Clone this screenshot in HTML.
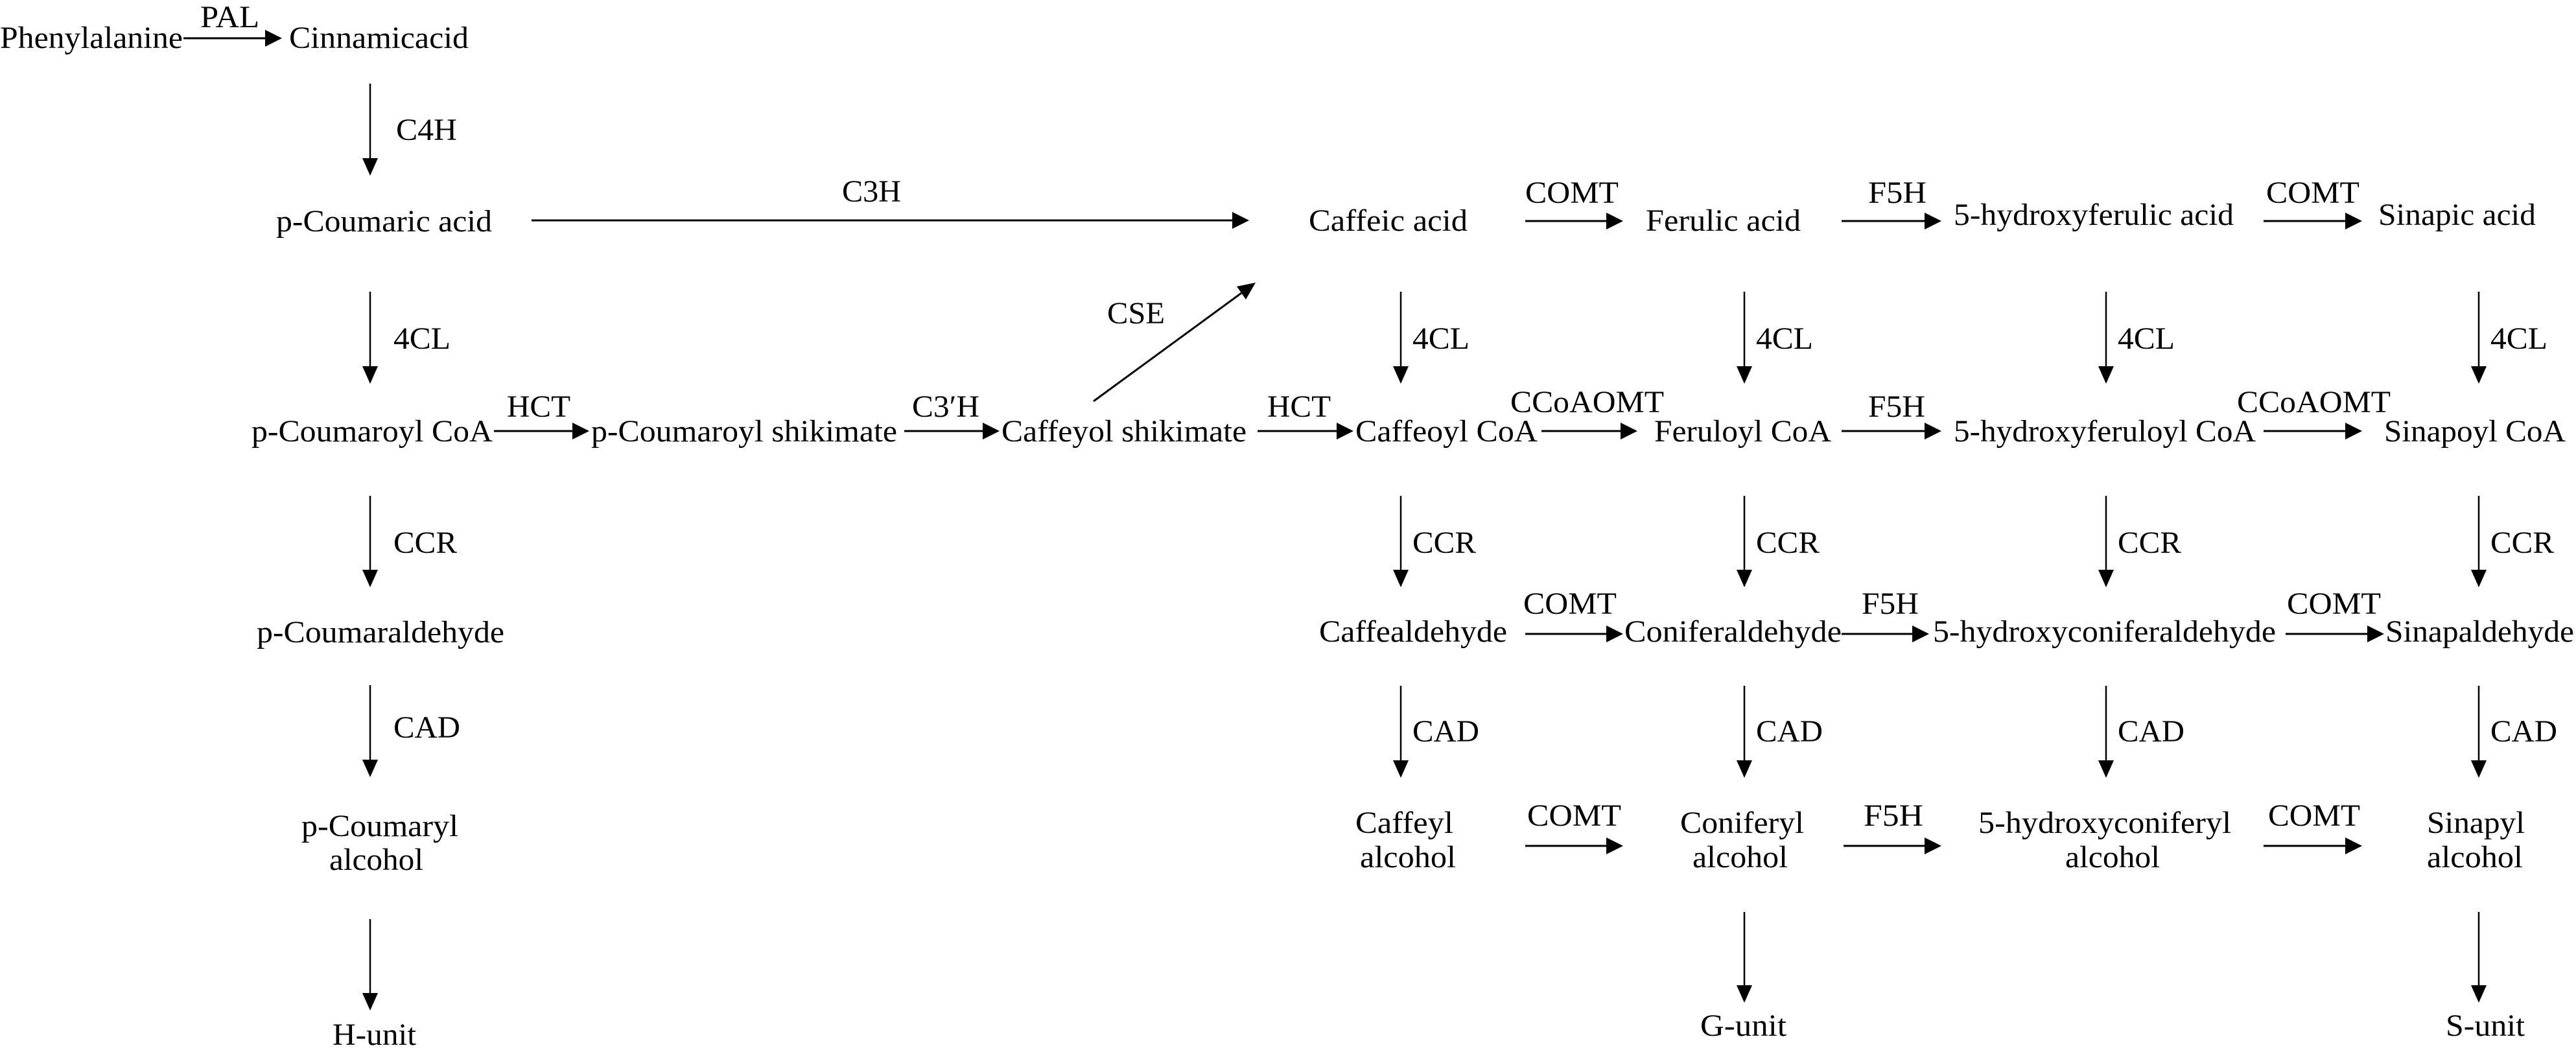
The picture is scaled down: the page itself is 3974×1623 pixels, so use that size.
<!DOCTYPE html>
<html><head><meta charset="utf-8"><style>
html,body{margin:0;padding:0;background:#fff;}
svg{display:block;}
text{font-family:"Liberation Serif",serif;font-size:48px;fill:#000;}
</style></head><body>
<svg width="3974" height="1623" viewBox="0 0 3974 1623" xmlns="http://www.w3.org/2000/svg">
<g stroke="#000" stroke-width="3" fill="none">
<line x1="283" y1="59" x2="410" y2="59"/>
<line x1="820" y1="340" x2="1902" y2="340"/>
<line x1="2353" y1="341" x2="2478" y2="341"/>
<line x1="2841" y1="341" x2="2970" y2="341"/>
<line x1="3492" y1="341" x2="3620" y2="341"/>
<line x1="762" y1="665" x2="884" y2="665"/>
<line x1="1395" y1="665" x2="1518" y2="665"/>
<line x1="1940" y1="665" x2="2064" y2="665"/>
<line x1="2378" y1="665" x2="2502" y2="665"/>
<line x1="2841" y1="665" x2="2970" y2="665"/>
<line x1="3492" y1="665" x2="3620" y2="665"/>
<line x1="2353" y1="978" x2="2480" y2="978"/>
<line x1="2841" y1="978" x2="2952" y2="978"/>
<line x1="3526" y1="978" x2="3654" y2="978"/>
<line x1="2353" y1="1305" x2="2480" y2="1305"/>
<line x1="2844" y1="1305" x2="2970" y2="1305"/>
<line x1="3492" y1="1305" x2="3620" y2="1305"/>
<line x1="1687" y1="619" x2="1918" y2="450"/>
</g>
<g stroke="#000" stroke-width="2.5" fill="none">
<line x1="571" y1="129" x2="571" y2="248"/>
<line x1="571" y1="450" x2="571" y2="568"/>
<line x1="571" y1="765" x2="571" y2="882"/>
<line x1="571" y1="1057" x2="571" y2="1175"/>
<line x1="571" y1="1418" x2="571" y2="1535"/>
<line x1="2161" y1="450" x2="2161" y2="568"/><line x1="2691" y1="450" x2="2691" y2="568"/><line x1="3249" y1="450" x2="3249" y2="568"/><line x1="3824" y1="450" x2="3824" y2="568"/>
<line x1="2161" y1="765" x2="2161" y2="882"/><line x1="2691" y1="765" x2="2691" y2="882"/><line x1="3249" y1="765" x2="3249" y2="882"/><line x1="3824" y1="765" x2="3824" y2="882"/>
<line x1="2161" y1="1058" x2="2161" y2="1176"/><line x1="2691" y1="1058" x2="2691" y2="1176"/><line x1="3249" y1="1058" x2="3249" y2="1176"/><line x1="3824" y1="1058" x2="3824" y2="1176"/>
<line x1="2691" y1="1407" x2="2691" y2="1520"/><line x1="3824" y1="1407" x2="3824" y2="1520"/>
</g>
<g fill="#000">
<polygon points="435,59 409,46 409,72"/>
<polygon points="1927,340 1901,327 1901,353"/>
<polygon points="2504,341 2478,328 2478,354"/>
<polygon points="2995,341 2969,328 2969,354"/>
<polygon points="3644,341 3618,328 3618,354"/>
<polygon points="909,665 883,652 883,678"/>
<polygon points="1542,665 1516,652 1516,678"/>
<polygon points="2088,665 2062,652 2062,678"/>
<polygon points="2526,665 2500,652 2500,678"/>
<polygon points="2995,665 2969,652 2969,678"/>
<polygon points="3644,665 3618,652 3618,678"/>
<polygon points="2504,978 2478,965 2478,991"/>
<polygon points="2976,978 2950,965 2950,991"/>
<polygon points="3678,978 3652,965 3652,991"/>
<polygon points="2504,1305 2478,1292 2478,1318"/>
<polygon points="2995,1305 2969,1292 2969,1318"/>
<polygon points="3644,1305 3618,1292 3618,1318"/>
<polygon points="1937,436 1922,462 1908,442"/>
<polygon points="571,271 559,244 583,244"/>
<polygon points="571,592 559,565 583,565"/>
<polygon points="571,906 559,879 583,879"/>
<polygon points="571,1199 559,1172 583,1172"/>
<polygon points="571,1559 559,1532 583,1532"/>
<polygon points="2161,592 2149,565 2173,565"/><polygon points="2691,592 2679,565 2703,565"/><polygon points="3249,592 3237,565 3261,565"/><polygon points="3824,592 3812,565 3836,565"/>
<polygon points="2161,906 2149,879 2173,879"/><polygon points="2691,906 2679,879 2703,879"/><polygon points="3249,906 3237,879 3261,879"/><polygon points="3824,906 3812,879 3836,879"/>
<polygon points="2161,1200 2149,1173 2173,1173"/><polygon points="2691,1200 2679,1173 2703,1173"/><polygon points="3249,1200 3237,1173 3261,1173"/><polygon points="3824,1200 3812,1173 3836,1173"/>
<polygon points="2691,1547 2679,1520 2703,1520"/><polygon points="3824,1547 3812,1520 3836,1520"/>
</g>
<g font-family="Liberation Serif, serif" font-size="48">
<text x="0" y="74" textLength="282" lengthAdjust="spacingAndGlyphs">Phenylalanine</text>
<text x="309" y="42" textLength="91" lengthAdjust="spacingAndGlyphs">PAL</text>
<text x="446" y="74" textLength="277" lengthAdjust="spacingAndGlyphs">Cinnamicacid</text>
<text x="611" y="216" textLength="94" lengthAdjust="spacingAndGlyphs">C4H</text>
<text x="426" y="357" textLength="333" lengthAdjust="spacingAndGlyphs">p-Coumaric acid</text>
<text x="1299" y="311" textLength="91" lengthAdjust="spacingAndGlyphs">C3H</text>
<text x="1708" y="499" textLength="89" lengthAdjust="spacingAndGlyphs">CSE</text>
<text x="607" y="538" textLength="88" lengthAdjust="spacingAndGlyphs">4CL</text>
<text x="388" y="681" textLength="372" lengthAdjust="spacingAndGlyphs">p-Coumaroyl CoA</text>
<text x="782" y="643" textLength="98" lengthAdjust="spacingAndGlyphs">HCT</text>
<text x="912" y="681" textLength="472" lengthAdjust="spacingAndGlyphs">p-Coumaroyl shikimate</text>
<text x="1407" y="643" textLength="104" lengthAdjust="spacingAndGlyphs">C3′H</text>
<text x="1545" y="681" textLength="378" lengthAdjust="spacingAndGlyphs">Caffeyol shikimate</text>
<text x="1955" y="643" textLength="98" lengthAdjust="spacingAndGlyphs">HCT</text>
<text x="607" y="853" textLength="98" lengthAdjust="spacingAndGlyphs">CCR</text>
<text x="396" y="991" textLength="382" lengthAdjust="spacingAndGlyphs">p-Coumaraldehyde</text>
<text x="607" y="1138" textLength="103" lengthAdjust="spacingAndGlyphs">CAD</text>
<text x="465" y="1290" textLength="242" lengthAdjust="spacingAndGlyphs">p-Coumaryl</text>
<text x="508" y="1342" textLength="145" lengthAdjust="spacingAndGlyphs">alcohol</text>
<text x="513" y="1612" textLength="129" lengthAdjust="spacingAndGlyphs">H-unit</text>

<text x="2019" y="356" textLength="245" lengthAdjust="spacingAndGlyphs">Caffeic acid</text>
<text x="2353" y="313" textLength="144" lengthAdjust="spacingAndGlyphs">COMT</text>
<text x="2539" y="356" textLength="239" lengthAdjust="spacingAndGlyphs">Ferulic acid</text>
<text x="2882" y="313" textLength="90" lengthAdjust="spacingAndGlyphs">F5H</text>
<text x="3014" y="347" textLength="432" lengthAdjust="spacingAndGlyphs">5-hydroxyferulic acid</text>
<text x="3496" y="313" textLength="144" lengthAdjust="spacingAndGlyphs">COMT</text>
<text x="3669" y="347" textLength="243" lengthAdjust="spacingAndGlyphs">Sinapic acid</text>

<text x="2179" y="538" textLength="88" lengthAdjust="spacingAndGlyphs">4CL</text>
<text x="2709" y="538" textLength="88" lengthAdjust="spacingAndGlyphs">4CL</text>
<text x="3267" y="538" textLength="88" lengthAdjust="spacingAndGlyphs">4CL</text>
<text x="3842" y="538" textLength="88" lengthAdjust="spacingAndGlyphs">4CL</text>

<text x="2091" y="681" textLength="281" lengthAdjust="spacingAndGlyphs">Caffeoyl CoA</text>
<text x="2330" y="636" textLength="237" lengthAdjust="spacingAndGlyphs">CCoAOMT</text>
<text x="2552" y="681" textLength="273" lengthAdjust="spacingAndGlyphs">Feruloyl CoA</text>
<text x="2882" y="643" textLength="88" lengthAdjust="spacingAndGlyphs">F5H</text>
<text x="3014" y="681" textLength="466" lengthAdjust="spacingAndGlyphs">5-hydroxyferuloyl CoA</text>
<text x="3451" y="636" textLength="237" lengthAdjust="spacingAndGlyphs">CCoAOMT</text>
<text x="3678" y="681" textLength="280" lengthAdjust="spacingAndGlyphs">Sinapoyl CoA</text>

<text x="2179" y="853" textLength="98" lengthAdjust="spacingAndGlyphs">CCR</text>
<text x="2709" y="853" textLength="98" lengthAdjust="spacingAndGlyphs">CCR</text>
<text x="3267" y="853" textLength="98" lengthAdjust="spacingAndGlyphs">CCR</text>
<text x="3842" y="853" textLength="98" lengthAdjust="spacingAndGlyphs">CCR</text>

<text x="2035" y="990" textLength="290" lengthAdjust="spacingAndGlyphs">Caffealdehyde</text>
<text x="2350" y="947" textLength="144" lengthAdjust="spacingAndGlyphs">COMT</text>
<text x="2506" y="990" textLength="335" lengthAdjust="spacingAndGlyphs">Coniferaldehyde</text>
<text x="2872" y="947" textLength="88" lengthAdjust="spacingAndGlyphs">F5H</text>
<text x="2982" y="990" textLength="529" lengthAdjust="spacingAndGlyphs">5-hydroxyconiferaldehyde</text>
<text x="3528" y="947" textLength="145" lengthAdjust="spacingAndGlyphs">COMT</text>
<text x="3680" y="990" textLength="291" lengthAdjust="spacingAndGlyphs">Sinapaldehyde</text>

<text x="2179" y="1144" textLength="103" lengthAdjust="spacingAndGlyphs">CAD</text>
<text x="2709" y="1144" textLength="103" lengthAdjust="spacingAndGlyphs">CAD</text>
<text x="3267" y="1144" textLength="103" lengthAdjust="spacingAndGlyphs">CAD</text>
<text x="3842" y="1144" textLength="103" lengthAdjust="spacingAndGlyphs">CAD</text>

<text x="2091" y="1285" textLength="151" lengthAdjust="spacingAndGlyphs">Caffeyl</text>
<text x="2098" y="1338" textLength="148" lengthAdjust="spacingAndGlyphs">alcohol</text>
<text x="2356" y="1274" textLength="145" lengthAdjust="spacingAndGlyphs">COMT</text>
<text x="2592" y="1285" textLength="191" lengthAdjust="spacingAndGlyphs">Coniferyl</text>
<text x="2611" y="1338" textLength="147" lengthAdjust="spacingAndGlyphs">alcohol</text>
<text x="2875" y="1274" textLength="92" lengthAdjust="spacingAndGlyphs">F5H</text>
<text x="3052" y="1285" textLength="390" lengthAdjust="spacingAndGlyphs">5-hydroxyconiferyl</text>
<text x="3186" y="1338" textLength="146" lengthAdjust="spacingAndGlyphs">alcohol</text>
<text x="3499" y="1274" textLength="142" lengthAdjust="spacingAndGlyphs">COMT</text>
<text x="3744" y="1285" textLength="151" lengthAdjust="spacingAndGlyphs">Sinapyl</text>
<text x="3744" y="1338" textLength="148" lengthAdjust="spacingAndGlyphs">alcohol</text>

<text x="2623" y="1598" textLength="133" lengthAdjust="spacingAndGlyphs">G-unit</text>
<text x="3773" y="1598" textLength="122" lengthAdjust="spacingAndGlyphs">S-unit</text>
</g>
</svg>
</body></html>
